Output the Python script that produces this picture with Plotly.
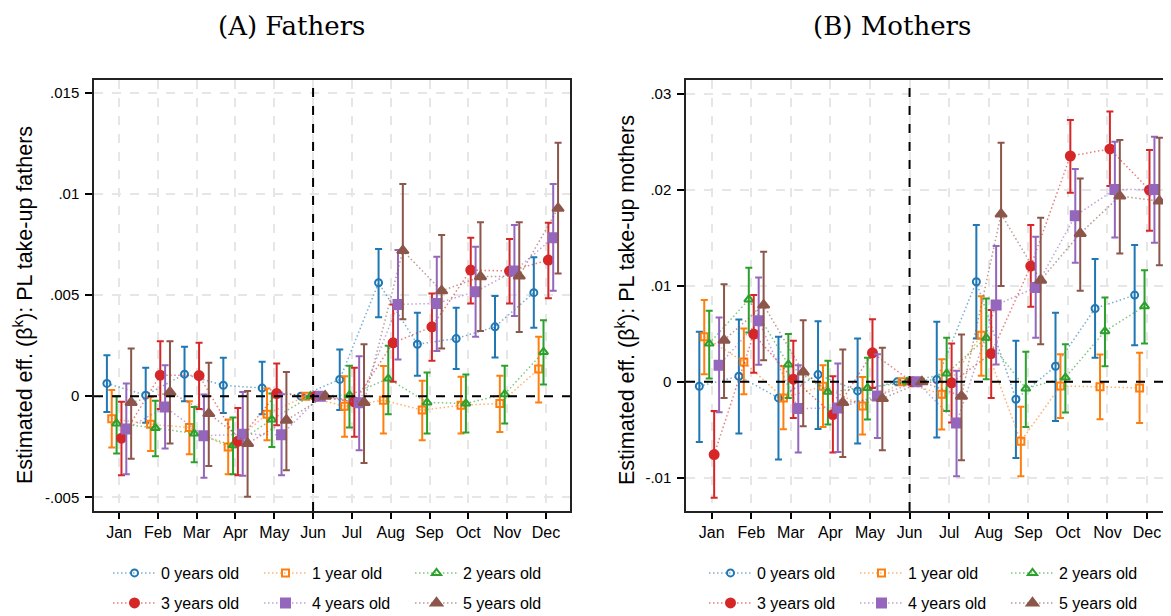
import plotly.graph_objects as go

# months and series
months = ["Jan", "Feb", "Mar", "Apr", "May", "Jun", "Jul", "Aug", "Sep", "Oct", "Nov", "Dec"]
series_names = ["0 years old", "1 year old", "2 years old", "3 years old", "4 years old", "5 years old"]

# Panel A: fathers (point estimates, lower and upper CI), one row per child age
fathers_est = [
    [0.00063, 0.00005, 0.00109, 0.00054, 0.0004, 0, 0.00083, 0.00561, 0.00257, 0.00285, 0.00343, 0.00512],
    [-0.00112, -0.00139, -0.00155, -0.00251, -0.00089, 0, -0.0005, -0.0002, -0.00069, -0.00045, -0.00036, 0.00134],
    [-0.00135, -0.00157, -0.00185, -0.00243, -0.00116, 0, 0.00005, 0.00087, -0.00031, -0.00036, 0.0001, 0.00219],
    [-0.00208, 0.00104, 0.00102, -0.00223, 0.00013, 0, -0.00028, 0.00264, 0.00343, 0.00624, 0.00619, 0.00673],
    [-0.00162, -0.00053, -0.00196, -0.00188, -0.00191, 0, -0.00033, 0.00454, 0.00459, 0.00517, 0.00619, 0.00784],
    [-0.00031, 0.0002, -0.00086, -0.00234, -0.00119, 0, -0.00031, 0.0072, 0.00521, 0.00591, 0.00594, 0.00929],
]
fathers_lo = [
    [-0.00078, -0.00132, -0.00025, -0.00083, -0.00089, 0, -0.00069, 0.0039, 0.00101, 0.00134, 0.00191, 0.00338],
    [-0.00254, -0.00271, -0.00287, -0.00386, -0.00218, 0, -0.00201, -0.00185, -0.00218, -0.00185, -0.00177, -0.00031],
    [-0.00284, -0.00297, -0.00327, -0.00386, -0.00251, 0, -0.00155, -0.00089, -0.00185, -0.0018, -0.00135, 0.00058],
    [-0.00391, -0.00064, -0.00063, -0.00391, -0.00144, 0, -0.00201, 0.00071, 0.00175, 0.00459, 0.00459, 0.00484],
    [-0.00386, -0.00259, -0.00403, -0.00394, -0.00391, 0, -0.00267, 0.00182, 0.00224, 0.00294, 0.00396, 0.00521],
    [-0.00309, -0.00234, -0.00345, -0.00498, -0.00366, 0, -0.0033, 0.00381, 0.00236, 0.00322, 0.00318, 0.00607],
]
fathers_hi = [
    [0.00203, 0.0014, 0.00244, 0.0019, 0.0017, 0, 0.00231, 0.00728, 0.00413, 0.00437, 0.00495, 0.00687],
    [0.0003, -0.00003, -0.00025, -0.00116, 0.00038, 0, 0.00099, 0.00149, 0.00076, 0.00096, 0.00101, 0.00294],
    [0.0, -0.00023, -0.00053, -0.00106, 0.00013, 0, 0.0015, 0.00249, 0.00117, 0.00107, 0.0015, 0.00376],
    [-0.00028, 0.00272, 0.00264, -0.00058, 0.00162, 0, 0.0014, 0.00454, 0.00508, 0.00784, 0.00777, 0.00858],
    [0.00063, 0.00153, 0.00008, 0.00021, 0.0001, 0, 0.00198, 0.00723, 0.0069, 0.00739, 0.00847, 0.0105],
    [0.00236, 0.00272, 0.00165, 0.00025, 0.0012, 0, 0.00257, 0.0105, 0.00797, 0.0086, 0.0086, 0.01254],
]

# Panel B: mothers
mothers_est = [
    [-0.00045, 0.00059, -0.00167, 0.00076, -0.00094, 0, 0.00024, 0.01042, -0.00181, 0.00163, 0.00764, 0.00903],
    [0.00469, 0.00208, -0.00167, -0.00045, -0.0025, 0, -0.00128, 0.00486, -0.00618, -0.00042, -0.00052, -0.00063],
    [0.00399, 0.00858, 0.00181, -0.00104, -0.00063, 0, 0.00087, 0.00458, -0.00069, 0.00045, 0.00528, 0.00788],
    [-0.00757, 0.00497, 0.00028, -0.0034, 0.00302, 0, -0.0001, 0.00295, 0.01205, 0.02351, 0.02424, 0.01997],
    [0.00174, 0.00635, -0.00278, -0.00271, -0.00146, 0, -0.00427, 0.00799, 0.00983, 0.01729, 0.02003, 0.02003],
    [0.00434, 0.00799, 0.00104, -0.00215, -0.00174, 0, -0.00149, 0.01747, 0.01059, 0.01545, 0.01934, 0.01882],
]
mothers_lo = [
    [-0.00625, -0.00538, -0.00809, -0.0049, -0.00642, 0, -0.0058, 0.00451, -0.00792, -0.00406, 0.0025, 0.00382],
    [0.0008, -0.00128, -0.00493, -0.00469, -0.00549, 0, -0.00497, 0.00063, -0.00983, -0.00375, -0.00389, -0.00427],
    [0.00035, 0.00514, -0.00167, -0.00444, -0.00392, 0, -0.00302, 0.00028, -0.00469, -0.00319, 0.00163, 0.00399],
    [-0.01205, 0.00094, -0.00375, -0.00736, -0.00063, 0, -0.00424, -0.00167, 0.00781, 0.01969, 0.02038, 0.01573],
    [-0.00316, 0.00177, -0.00736, -0.00729, -0.00583, 0, -0.00983, 0.00181, 0.00458, 0.0124, 0.01503, 0.01448],
    [-0.00167, 0.00226, -0.00462, -0.00781, -0.00712, 0, -0.00816, 0.00997, 0.00392, 0.00948, 0.01337, 0.01215],
]
mothers_hi = [
    [0.00521, 0.00649, 0.00469, 0.00632, 0.00451, 0, 0.00625, 0.01632, 0.00427, 0.00719, 0.01278, 0.01424],
    [0.00851, 0.00556, 0.00163, 0.00174, 0.00052, 0, 0.00236, 0.00892, -0.0026, 0.00288, 0.00285, 0.00302],
    [0.0074, 0.01188, 0.00497, 0.00219, 0.0025, 0, 0.00458, 0.00868, 0.00313, 0.00392, 0.00878, 0.01163],
    [-0.00302, 0.00903, 0.00427, 0.00059, 0.00653, 0, 0.00399, 0.00747, 0.01632, 0.02726, 0.02813, 0.02413],
    [0.0067, 0.01087, 0.00174, 0.00191, 0.00288, 0, 0.00115, 0.01413, 0.0151, 0.02215, 0.025, 0.02552],
    [0.01017, 0.01354, 0.00642, 0.00337, 0.00354, 0, 0.00493, 0.0249, 0.01708, 0.02118, 0.02517, 0.02542],
]

fathers_ticks = [-0.005, 0, 0.005, 0.01, 0.015]
fathers_ticktext = ["-.005", "0", ".005", ".01", ".015"]
mothers_ticks = [-0.01, 0, 0.01, 0.02, 0.03]
mothers_ticktext = ["-.01", "0", ".01", ".02", ".03"]

colors = ["#1f77b4", "#ff7f0e", "#2ca02c", "#d62728", "#9467bd", "#8c564b"]
faded = ["rgba(31,119,180,0.6)", "rgba(255,127,14,0.6)", "rgba(44,160,44,0.6)",
         "rgba(214,39,40,0.6)", "rgba(148,103,189,0.6)", "rgba(140,86,75,0.6)"]
symbols = ["circle-open", "square-open", "triangle-up-open", "circle", "square", "triangle-up"]
sizes = [7, 7, 8, 9, 9, 10]

# page body adds an 8px margin, so the figure is 8px smaller and shifted
W, H = 1163, 608
FONT = "Liberation Sans"


def px(x):
    return (x - 8) / W


def py(y):
    return (511 - y) / 431


fig = go.Figure()

panels = [
    ("x", "y", fathers_est, fathers_lo, fathers_hi, ["legend", "legend2"]),
    ("x2", "y2", mothers_est, mothers_lo, mothers_hi, ["legend3", "legend4"]),
]

for xa, ya, est, lo, hi, legs in panels:
    for k in range(6):
        xs = [m + 1 + (k - 2.5) * 0.125 for m in range(12)]
        up = [None if h == e == l else h - e for e, l, h in zip(est[k], lo[k], hi[k])]
        dn = [None if h == e == l else e - l for e, l, h in zip(est[k], lo[k], hi[k])]
        fig.add_trace(go.Scatter(
            x=xs, y=est[k], xaxis=xa, yaxis=ya,
            mode="lines+markers", name=series_names[k],
            line=dict(color=faded[k], width=1.5, dash="1.5px,2.5px"),
            marker=dict(symbol=symbols[k], size=sizes[k], color=colors[k],
                        line=dict(color=colors[k], width=2)),
            error_y=dict(type="data", symmetric=False, array=up, arrayminus=dn,
                         color=colors[k], thickness=2, width=3.5),
            legend=legs[0] if k < 3 else legs[1],
        ))


def xaxis_style(domain, rng):
    return dict(domain=domain, range=rng, tickmode="array",
                tickvals=list(range(1, 13)), ticktext=months,
                ticks="outside", ticklen=6, tickwidth=1.5, tickcolor="black",
                showgrid=True, gridcolor="#e6e6e6", griddash="dash", gridwidth=1.5,
                showline=True, linecolor="#222", linewidth=1.5, mirror=True,
                zeroline=False, tickfont=dict(family=FONT, size=16, color="black"))


def yaxis_style(anchor, rng, vals, text, mirror):
    return dict(anchor=anchor, domain=[0, 1], range=rng, tickmode="array",
                tickvals=vals, ticktext=text, ticklabelstandoff=3,
                ticks="outside", ticklen=7, tickwidth=1.5, tickcolor="black",
                showgrid=True, gridcolor="#e6e6e6", griddash="dash", gridwidth=1.5,
                showline=True, linecolor="#222", linewidth=1.5, mirror=mirror,
                zeroline=False, tickfont=dict(family=FONT, size=15, color="black"))


def leg(xref_px, yref_px):
    return dict(orientation="h", x=px(xref_px), y=py(yref_px),
                xanchor="left", yanchor="middle", entrywidth=93, itemwidth=43,
                font=dict(family=FONT, size=16, color="black"),
                bgcolor="rgba(0,0,0,0)", traceorder="normal")


fig.update_layout(
    width=W, height=H,
    margin=dict(l=0, r=0, t=72, b=105, autoexpand=False),
    paper_bgcolor="white", plot_bgcolor="white",
    xaxis=xaxis_style([px(94), px(570)], [0.355, 12.62]),
    yaxis=yaxis_style("x", [-0.00568, 0.01564], fathers_ticks, fathers_ticktext, True),
    xaxis2=dict(xaxis_style([px(686), 1.0], [0.351, 12.606]), anchor="y2"),
    yaxis2=yaxis_style("x2", [-0.01344, 0.03142], mothers_ticks, mothers_ticktext, False),
    legend=leg(108, 573),
    legend2=leg(108, 603),
    legend3=leg(704, 573),
    legend4=leg(704, 603),
    font=dict(family=FONT, color="black"),
)

# reference lines at zero and at June
for xa, ya in [("x", "y"), ("x2", "y2")]:
    fig.add_shape(type="line", xref=xa + " domain", yref=ya, x0=0, x1=1, y0=0, y1=0,
                  line=dict(color="black", width=2, dash="dash"))
    fig.add_shape(type="line", xref=xa, yref=ya + " domain", x0=6, x1=6, y0=0, y1=1,
                  line=dict(color="black", width=2, dash="dash"))

# panel titles
for txt, xc in [("(A) Fathers", 291), ("(B) Mothers", 892)]:
    fig.add_annotation(text=txt, x=px(xc), y=py(26), xref="paper", yref="paper",
                       xanchor="center", yanchor="middle", showarrow=False,
                       font=dict(family="DejaVu Serif", size=26, color="black"))

# y axis titles
for txt, xc, yc in [("Estimated eff. (β<sup>k</sup>): PL take-up fathers", 23, 305),
                    ("Estimated eff. (β<sup>k</sup>): PL take-up mothers", 625, 300)]:
    fig.add_annotation(text=txt, textangle=-90, x=px(xc), y=py(yc),
                       xref="paper", yref="paper", xanchor="center", yanchor="middle",
                       showarrow=False, font=dict(family=FONT, size=21.5, color="black"))

fig.write_html("out.html")
